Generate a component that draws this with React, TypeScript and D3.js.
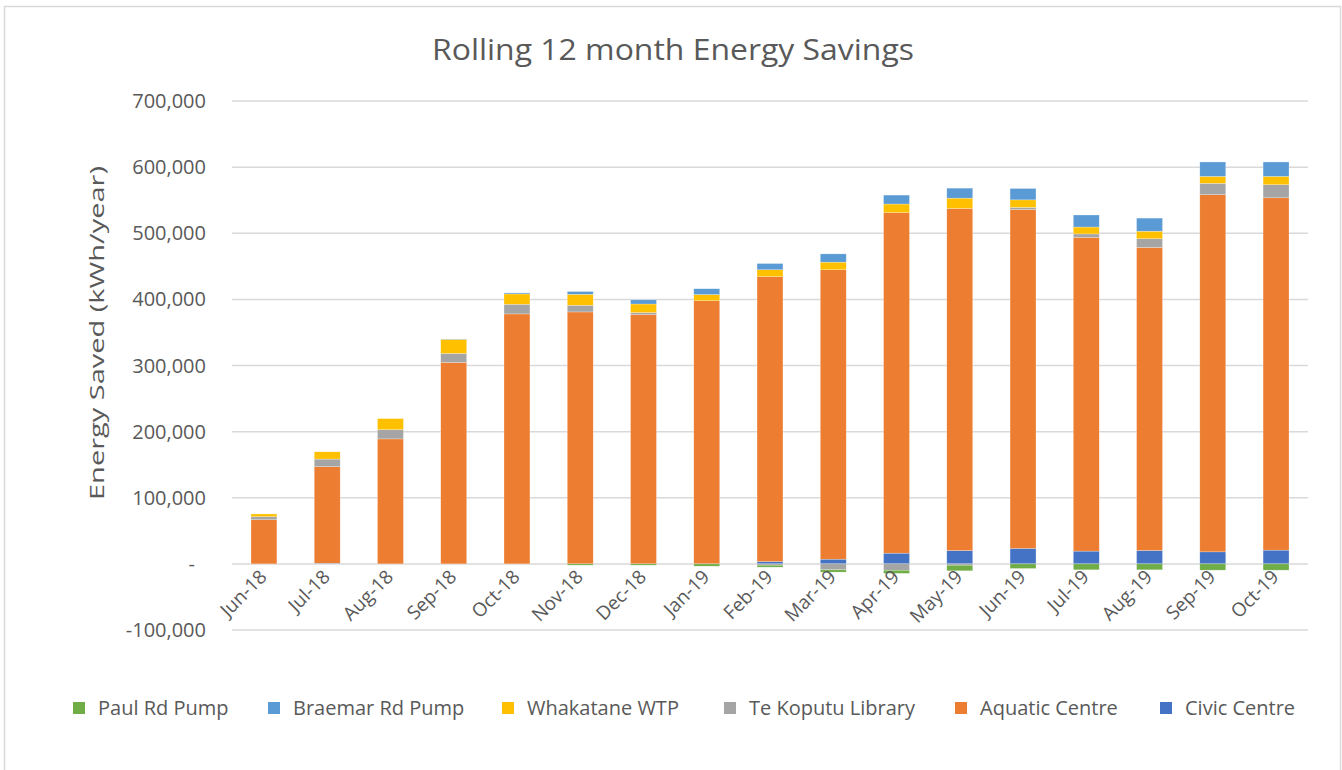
import React from "react";
import * as d3 from "d3";

const width = 1342;
const height = 770;

const months = ["Jun-18", "Jul-18", "Aug-18", "Sep-18", "Oct-18", "Nov-18", "Dec-18", "Jan-19", "Feb-19", "Mar-19", "Apr-19", "May-19", "Jun-19", "Jul-19", "Aug-19", "Sep-19", "Oct-19"];

// values in kWh/year
const civicCentre = [0, 1000, 0, 0, 0, 0, 0, 0, 3500, 7100, 16200, 20200, 23400, 19300, 20300, 18200, 20800];
const aquaticCentre = [66700, 146000, 189000, 304700, 378000, 381000, 377000, 397900, 430900, 437700, 515000, 517300, 512500, 474500, 458300, 540100, 532800];
const teKoputuLibrary = [4700, 11500, 14000, 13500, 14600, 10000, 3000, 0, -2000, -9000, -9600, -2000, 3200, 5200, 13100, 17200, 19800];
const whakataneWTP = [4100, 11000, 16700, 21400, 15600, 16700, 13000, 9400, 10400, 11500, 13000, 15600, 11400, 10400, 11400, 10500, 12600];
const braemarRdPump = [0, 0, 0, 500, 1600, 4200, 6300, 8800, 9400, 12500, 13500, 15100, 17200, 18200, 19800, 21800, 21800];
const paulRdPump = [0, 0, 0, 0, 0, -2000, -2000, -3500, -3000, -3500, -4800, -8500, -7000, -9000, -9000, -9500, -9500];

const yTicks = [-100000, 0, 100000, 200000, 300000, 400000, 500000, 600000, 700000];

// stacking order (bottom up)
const series = [
  { key: "Civic Centre", values: civicCentre, color: "#4472C4" },
  { key: "Aquatic Centre", values: aquaticCentre, color: "#ED7D31" },
  { key: "Te Koputu Library", values: teKoputuLibrary, color: "#A5A5A5" },
  { key: "Whakatane WTP", values: whakataneWTP, color: "#FFC000" },
  { key: "Braemar Rd Pump", values: braemarRdPump, color: "#5B9BD5" },
  { key: "Paul Rd Pump", values: paulRdPump, color: "#70AD47" },
];

// legend order as shown
const legendOrder = ["Paul Rd Pump", "Braemar Rd Pump", "Whakatane WTP", "Te Koputu Library", "Aquatic Centre", "Civic Centre"];
const legendX = [73, 268, 502, 724, 955, 1160];

const plotLeft = 232;
const plotRight = 1308;
const font = "'Open Sans', Lato, sans-serif";
const textColor = "#595959";

export default function App() {
  const rows = months.map((m, i) => {
    const r: any = { month: m };
    series.forEach((s) => (r[s.key] = s.values[i]));
    return r;
  });

  const stacked = d3
    .stack()
    .keys(series.map((s) => s.key))
    .offset(d3.stackOffsetDiverging)(rows);

  const x = d3.scaleBand().domain(months).range([plotLeft, plotRight]).paddingInner(0.59).paddingOuter(0.3);
  const y = d3.scaleLinear().domain([-100000, 700000]).range([630, 101]);
  const fmt = (v: number) => (v === 0 ? "-" : d3.format(",")(v).replace("\u2212", "-"));

  return (
    <svg width={width} height={height} style={{ position: "absolute", left: 0, top: 0 }} fontFamily={font}>
      <rect x={0} y={0} width={width} height={height} fill="#fff" />
      <rect x={4.5} y={6.5} width={1336} height={800} fill="#fff" stroke="#d9d9d9" strokeWidth={1.5} />

      <text x={673} y={60} textAnchor="middle" fontSize={29} fill={textColor} textLength={482} lengthAdjust="spacingAndGlyphs">
        Rolling 12 month Energy Savings
      </text>

      {yTicks.map((t) => (
        <g key={t}>
          <line x1={plotLeft} x2={plotRight} y1={y(t)} y2={y(t)} stroke="#d9d9d9" strokeWidth={1.5} />
          <text x={t === 0 ? 195 : 206} y={y(t) + 7} textAnchor="end" fontSize={20} fill={textColor}>
            {fmt(t)}
          </text>
        </g>
      ))}

      <text transform={`translate(104, 333) rotate(-90)`} textAnchor="middle" fontSize={20.5} fill={textColor} textLength={334} lengthAdjust="spacingAndGlyphs">
        Energy Saved (kWh/year)
      </text>

      {stacked.map((layer, li) => (
        <g key={layer.key} fill={series[li].color}>
          {layer.map((d: any, i: number) => {
            const top = y(Math.max(d[0], d[1]));
            const bot = y(Math.min(d[0], d[1]));
            if (bot - top <= 0) return null;
            return (
              <rect key={i} x={x(months[i])} y={top} width={x.bandwidth()} height={bot - top} stroke="#fff" strokeOpacity={0.5} strokeWidth={0.5} />
            );
          })}
        </g>
      ))}

      {months.map((m) => {
        const cx = (x(m) as number) + x.bandwidth() / 2 + 4;
        return (
          <text key={m} transform={`translate(${cx}, 578) rotate(-45)`} textAnchor="end" fontSize={19} fill={textColor}>
            {m}
          </text>
        );
      })}

      {legendOrder.map((k, i) => {
        const s = series.find((d) => d.key === k)!;
        return (
          <g key={k} transform={`translate(${legendX[i]}, 708)`}>
            <rect x={0} y={-6} width={12} height={12} fill={s.color} />
            <text x={25} y={7} fontSize={20} fill={textColor}>
              {k}
            </text>
          </g>
        );
      })}
    </svg>
  );
}
